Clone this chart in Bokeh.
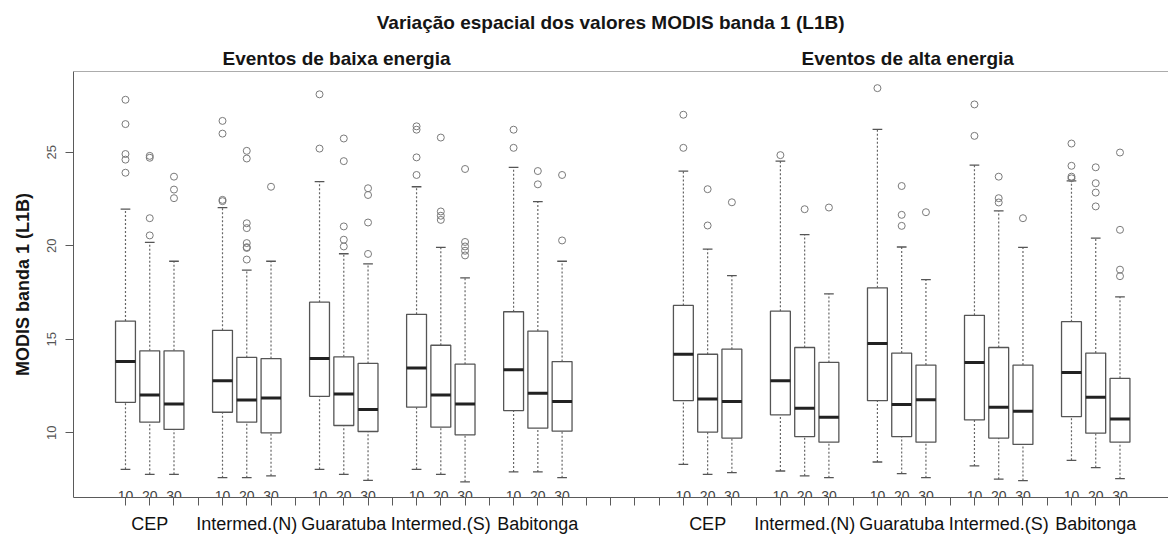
from bokeh.plotting import figure
from bokeh.layouts import column
from bokeh.models import FixedTicker, Span, Range1d
from bokeh.core.properties import value
from bokeh.embed import file_html
from bokeh.resources import INLINE

# ---- data -------------------------------------------------------------
stations = ["CEP", "Intermed.(N)", "Guaratuba", "Intermed.(S)", "Babitonga"]
depths = ["10", "20", "30"]
groups = ["Eventos de baixa energia", "Eventos de alta energia"]

# box statistics, ordered group -> station -> depth
lower = [8.05, 7.78, 7.78,  7.60, 7.60, 7.70,  8.05, 7.78, 7.46,  8.05, 7.78, 7.38,  7.91, 7.91, 7.60,
         8.31, 7.78, 7.87,  7.96, 7.70, 7.60,  8.44, 7.82, 7.60,  8.23, 7.52, 7.45,  8.53, 8.14, 7.55]
q1 = [11.63, 10.57, 10.18,  11.10, 10.57, 10.00,  11.95, 10.39, 10.07,  11.37, 10.30, 9.89,  11.19, 10.25, 10.09,
      11.72, 10.04, 9.72,  10.96, 9.80, 9.50,  11.72, 9.80, 9.50,  10.69, 9.72, 9.38,  10.87, 9.98, 9.50]
median = [13.81, 12.02, 11.54,  12.78, 11.76, 11.86,  13.97, 12.07, 11.24,  13.46, 12.02, 11.54,  13.37, 12.11, 11.67,
          14.20, 11.81, 11.67,  12.78, 11.31, 10.83,  14.77, 11.51, 11.77,  13.76, 11.37, 11.15,  13.23, 11.90, 10.74]
q3 = [15.97, 14.38, 14.38,  15.48, 14.03, 13.97,  16.98, 14.06, 13.71,  16.33, 14.68, 13.67,  16.47, 15.44, 13.81,
      16.81, 14.20, 14.47,  16.50, 14.56, 13.76,  17.75, 14.26, 13.62,  16.28, 14.56, 13.62,  15.94, 14.26, 12.91]
upper = [21.95, 20.18, 19.17,  22.04, 18.69, 19.17,  23.42, 19.57, 19.03,  23.15, 19.91, 18.28,  24.19, 22.36, 19.17,
         23.99, 19.82, 18.40,  24.52, 20.59, 17.43,  26.22, 19.93, 18.19,  24.31, 21.86, 19.91,  23.46, 20.41, 17.26]
outliers = [
    [27.8, 26.5, 24.9, 24.6, 23.9], [24.7, 24.8, 21.47, 20.55], [23.69, 23.0, 22.54],
    [26.67, 25.99, 22.45, 22.38], [25.07, 24.66, 21.2, 20.94, 20.14, 19.88, 19.92, 19.26], [23.15],
    [28.09, 25.19], [25.73, 24.52, 21.03, 20.32, 19.96], [23.07, 22.71, 21.24, 19.56],
    [26.38, 26.2, 24.72, 23.78], [25.78, 21.83, 21.6, 21.38], [24.1, 20.2, 19.96, 19.73, 19.48],
    [26.2, 25.23], [23.99, 23.28], [23.78, 20.28],
    [27.0, 25.23], [23.02, 21.08], [22.32],
    [24.84], [21.95], [22.04],
    [28.42], [23.19, 21.65, 21.06], [21.79],
    [27.55, 25.87], [23.69, 22.54, 22.31], [21.47],
    [25.46, 24.27, 23.69, 23.6], [24.19, 23.34, 22.84, 22.10], [24.98, 20.85, 18.72, 18.37],
]
y_ticks = [10, 15, 20, 25]

title = "Variação espacial dos valores MODIS banda 1 (L1B)"
y_label = "MODIS banda 1 (L1B)"

# ---- layout of the boxes along x ---------------------------------------
GROUP_SHIFT = 23          # first box of the second group sits at 24
STATION_STEP = 4          # three boxes plus one empty slot
pos, depth_txt = [], []
for g in range(len(groups)):
    for s in range(len(stations)):
        for d in range(len(depths)):
            pos.append(1 + g * GROUP_SHIFT + s * STATION_STEP + d)
            depth_txt.append(depths[d])

n_ticks = pos[-1]
tick_pos = list(range(1, n_ticks + 1))
tick_names = {t: "" for t in tick_pos}
for g in range(len(groups)):
    for s, name in enumerate(stations):
        tick_names[2 + g * GROUP_SHIFT + s * STATION_STEP] = name

FONT = "Liberation Sans"
GREY = "#5a5a5a"
x_range = Range1d(-1.143, 44.0)
Y0, Y1 = 6.543, 29.31

# ---- title strip ------------------------------------------------------
head = figure(width=1168, height=70, output_backend="svg", toolbar_location=None,
              x_range=x_range, y_range=Range1d(0, 70),
              x_axis_location=None, y_axis_location=None,
              min_border_left=73, min_border_right=0, min_border_top=0, min_border_bottom=0,
              background_fill_color="white", border_fill_color="white")
head.outline_line_color = None
head.grid.visible = False
head.text(x=[21.0], y=[48], text=[title], text_align="center", text_baseline="middle",
          text_font=value(FONT), text_font_size="19px", text_font_style="bold", text_color="#151515")
head.text(x=[9.7, 33.25], y=[12, 12], text=groups, text_align="center", text_baseline="middle",
          text_font=value(FONT), text_font_size="19px", text_font_style="bold", text_color="#151515")

# ---- box plot ---------------------------------------------------------
p = figure(width=1168, height=466, output_backend="svg", toolbar_location=None,
           x_range=x_range, y_range=Range1d(Y0, Y1),
           min_border_left=73, min_border_right=0, min_border_top=1, min_border_bottom=37,
           background_fill_color="white", border_fill_color="white")
p.outline_line_color = None
p.grid.visible = False

# whiskers (dashed) and caps
p.segment(x0=pos, y0=q3, x1=pos, y1=upper, line_color="#666666", line_width=1.2, line_dash="2 2")
p.segment(x0=pos, y0=lower, x1=pos, y1=q1, line_color="#666666", line_width=1.2, line_dash="2 2")
CAP = 0.2
p.segment(x0=[x - CAP for x in pos], y0=upper, x1=[x + CAP for x in pos], y1=upper,
          line_color="#555555", line_width=1.3)
p.segment(x0=[x - CAP for x in pos], y0=lower, x1=[x + CAP for x in pos], y1=lower,
          line_color="#555555", line_width=1.3)

# boxes and medians
BOX_W = 0.82
p.vbar(x=pos, width=BOX_W, bottom=q1, top=q3, fill_color="white",
       line_color="#555555", line_width=1.3)
p.segment(x0=[x - BOX_W / 2 for x in pos], y0=median, x1=[x + BOX_W / 2 for x in pos], y1=median,
          line_color="#222222", line_width=3)

# outlying points
ox, oy = [], []
for x, pts in zip(pos, outliers):
    for v in pts:
        ox.append(x)
        oy.append(v)
p.scatter(x=ox, y=oy, marker="circle", size=7, fill_color=None, line_color="#7a7a7a", line_width=1)

# depth labels sitting on the x axis line
p.text(x=pos, y=[Y0] * len(pos), text=depth_txt, text_align="center", text_baseline="alphabetic",
       y_offset=-2, text_font=value(FONT), text_font_size="14px", text_color="#444444")

# axes
xa = p.xaxis[0]
xa.ticker = FixedTicker(ticks=tick_pos)
xa.major_label_overrides = tick_names
xa.minor_tick_line_color = None
xa.major_tick_in = 0
xa.major_tick_out = 8
xa.major_tick_line_color = GREY
xa.axis_line_color = GREY
xa.major_label_standoff = 8
xa.major_label_text_font = FONT
xa.major_label_text_font_size = "18px"
xa.major_label_text_color = "#111111"

ya = p.yaxis[0]
ya.ticker = FixedTicker(ticks=y_ticks)
ya.minor_tick_line_color = None
ya.major_tick_in = 0
ya.major_tick_out = 8
ya.major_tick_line_color = GREY
ya.axis_line_color = GREY
ya.major_label_orientation = "vertical"
ya.major_label_standoff = 9
ya.major_label_text_font = FONT
ya.major_label_text_font_size = "13px"
ya.major_label_text_color = "#555555"
ya.axis_label = y_label
ya.axis_label_text_font = FONT
ya.axis_label_text_font_size = "18px"
ya.axis_label_text_font_style = "bold"
ya.axis_label_text_color = "#151515"
ya.axis_label_standoff = 12

# top frame line
p.add_layout(Span(location=Y1, dimension="width", line_color=GREY, line_width=1.2))

layout = column(head, p, spacing=0)
open("out.html", "w").write(file_html(layout, INLINE))
